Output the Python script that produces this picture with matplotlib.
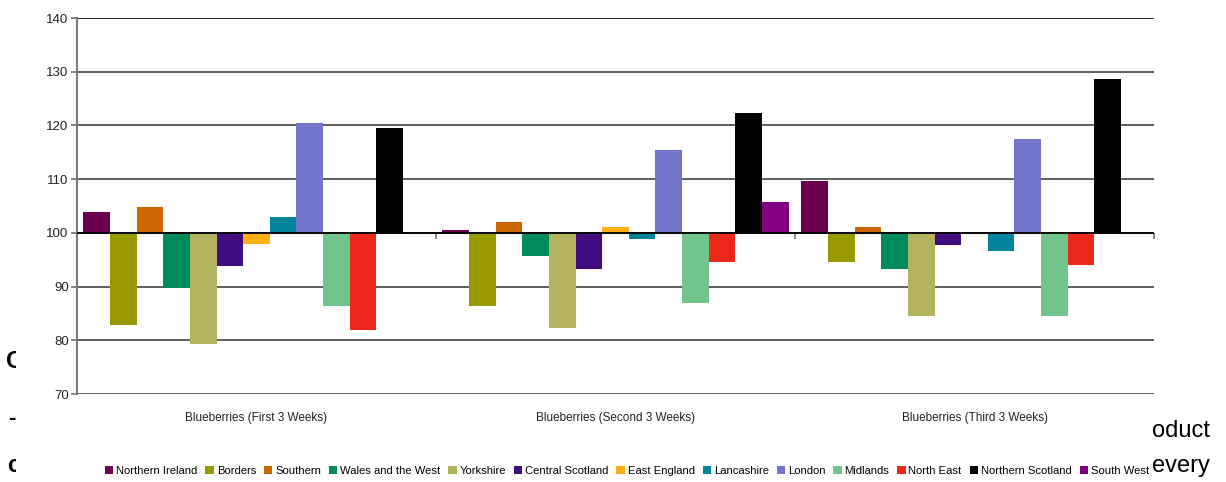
import matplotlib.pyplot as plt
import matplotlib.patches as mpatches
import numpy as np

periods = ["Blueberries (First 3 Weeks)", "Blueberries (Second 3 Weeks)",
           "Blueberries (Third 3 Weeks)"]
regions = ["Northern Ireland", "Borders", "Southern", "Wales and the West",
           "Yorkshire", "Central Scotland", "East England", "Lancashire",
           "London", "Midlands", "North East", "Northern Scotland", "South West"]
colours = ["#6b0050", "#999900", "#cc6600", "#008c5a", "#b3b360", "#400c80",
           "#ffb010", "#00849a", "#7375cc", "#70c48c", "#eb281a", "#000000",
           "#800080"]

# index per region (rows) for each period (columns), base = 100
index_values = {
    "Northern Ireland":   [103.8, 100.6, 109.6],
    "Borders":            [82.9, 86.4, 94.5],
    "Southern":           [104.9, 102.1, 101.0],
    "Wales and the West": [89.7, 95.6, 93.2],
    "Yorkshire":          [79.4, 82.3, 84.6],
    "Central Scotland":   [93.8, 93.2, 97.8],
    "East England":       [97.9, 101.0, 100.0],
    "Lancashire":         [103.0, 98.9, 96.7],
    "London":             [120.4, 115.5, 117.4],
    "Midlands":           [86.4, 87.0, 84.6],
    "North East":         [82.0, 94.5, 94.0],
    "Northern Scotland":  [119.5, 122.4, 128.6],
    "South West":         [99.7, 105.7, 100.0],
}
yticks = [70, 80, 90, 100, 110, 120, 130, 140]
base = 100

plt.rcParams["font.family"] = ["Liberation Sans", "DejaVu Sans"]

fig = plt.figure(figsize=(12.26, 4.82), dpi=100)

# bits of slide text peeking out around the chart box
fig.text(6 / 1226, 1 - 361 / 482, "C", fontsize=17.5, fontweight="bold",
         va="center", ha="left", zorder=1)
fig.text(8 / 1226, 1 - 418 / 482, "-", fontsize=16, fontweight="bold",
         va="center", ha="left", zorder=1)
fig.text(7 / 1226, 1 - 465 / 482, "c", fontsize=17, fontweight="bold",
         va="center", ha="left", zorder=1)
fig.text(1210 / 1226, 1 - 437 / 482, "product", fontsize=17,
         va="baseline", ha="right", zorder=1)
fig.text(1210 / 1226, 1 - 472 / 482, "every", fontsize=17,
         va="baseline", ha="right", zorder=1)
fig.patches.append(mpatches.Rectangle((16 / 1226, 0), (1153 - 16) / 1226, 1,
                                      transform=fig.transFigure,
                                      facecolor="white", edgecolor="none",
                                      zorder=2))

ax = fig.add_axes([77 / 1226, 88 / 482, (1154 - 77) / 1226, (394 - 18) / 482])
ax.set_zorder(4)

n = len(regions)
width = 0.964 / n
x = np.arange(len(periods))
handles = []
for i, (name, col) in enumerate(zip(regions, colours)):
    vals = np.array(index_values[name])
    h = ax.bar(x + (i - (n - 1) / 2) * width, vals - base, width, bottom=base,
               color=col, linewidth=0, zorder=2, label=name)
    handles.append(h)

ax.set_xlim(-0.5, len(periods) - 0.5)
ax.set_ylim(yticks[0], yticks[-1])
ax.set_yticks(yticks)
ax.set_yticklabels([str(t) for t in yticks], fontsize=9.5, color="#222222")
ax.set_xticks(x)
ax.set_xticklabels(periods, fontsize=8.5, color="#222222")
ax.tick_params(axis="x", length=0, pad=13)
ax.tick_params(axis="y", length=4, width=1.2, color="#707070", pad=2)

ax.yaxis.grid(True, color="#333333", linewidth=1.1, zorder=0)
ax.set_axisbelow(True)
ax.axhline(base, color="black", linewidth=1.3, zorder=3)
ax.axhline(yticks[-1], color="black", linewidth=1.3, zorder=0)
for s in ["top", "right", "bottom"]:
    ax.spines[s].set_visible(False)
ax.spines["left"].set_color("#7a7a7a")
ax.spines["left"].set_linewidth(1.5)

# category boundary ticks sitting on the 100 line
sec = ax.secondary_xaxis((base - yticks[0]) / (yticks[-1] - yticks[0]))
sec.set_xticks(np.arange(len(periods) + 1) - 0.5)
sec.set_xticklabels([])
sec.tick_params(length=4, width=1.2, color="#707070", direction="out")
sec.spines["bottom"].set_visible(False)

leg = fig.legend(handles=handles, loc="center", ncol=n,
                 bbox_to_anchor=(627 / 1226, 1 - 471 / 482), frameon=False,
                 fontsize=8.1, handlelength=0.75, handleheight=0.75,
                 handletextpad=0.25, columnspacing=0.7, borderaxespad=0)
leg.set_zorder(5)

fig.savefig("out.png", dpi=100, facecolor="white")
